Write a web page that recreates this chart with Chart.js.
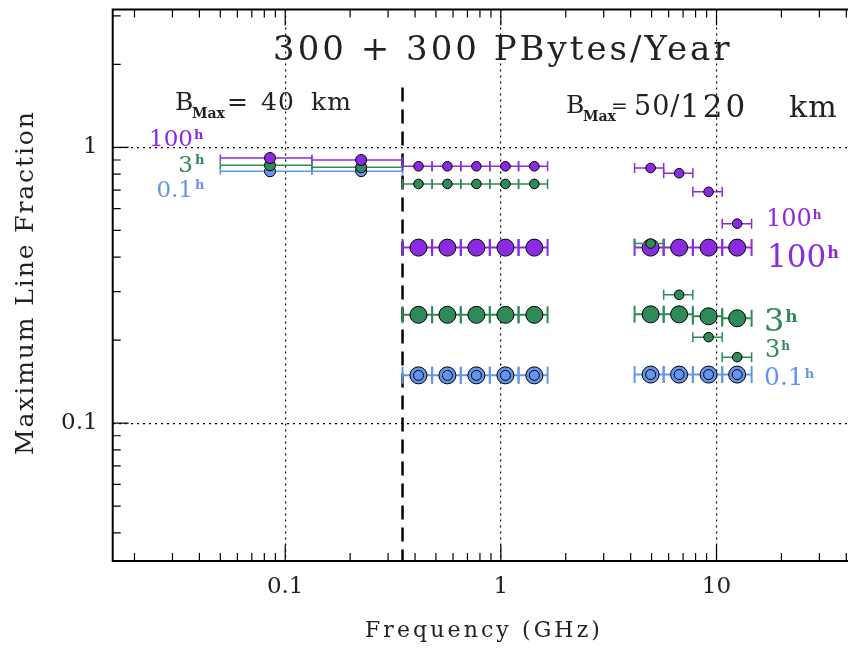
<!DOCTYPE html>
<html><head><meta charset="utf-8">
<script src="https://cdn.jsdelivr.net/npm/chart.js@4.4.0/dist/chart.umd.min.js"></script>
<style>
html,body{margin:0;padding:0;overflow:hidden;background:#fff;width:848px;height:650px}
#wrap{position:absolute;left:0;top:0;width:900px;height:650px}
</style>
</head><body><div id="wrap"><canvas id="c" width="900" height="650"></canvas></div>
<script>
// ---------------- data ----------------
const xMajorTicks = [0.1, 1, 10];
const xTickLabels = ['0.1', '1', '10'];
const yMajorTicks = [0.1, 1];
const yTickLabels = ['0.1', '1'];
const minorMultipliers = [2, 3, 4, 5, 6, 7, 8, 9];
const decades = [0.01, 0.1, 1, 10];

// B_Max = 40 km (below 350 MHz)
const lowFreq = [0.085, 0.225];
const lowLo   = [0.05, 0.133];
const lowHi   = [0.133, 0.35];
const low100h = [0.915, 0.90];
const low3h   = [0.861, 0.847];
const low01h  = [0.819, 0.82];

// B_Max = 50/120 km, 0.35 - 1.65 GHz
const midFreq = [0.415, 0.565, 0.77, 1.05, 1.43];
const midLo   = [0.35, 0.48, 0.652, 0.889, 1.208];
const midHi   = [0.48, 0.652, 0.889, 1.208, 1.647];
const mid100hSmall = [0.854, 0.854, 0.854, 0.854, 0.854];
const mid3hSmall   = [0.737, 0.737, 0.737, 0.737, 0.737];
const mid100hBig   = [0.433, 0.433, 0.433, 0.433, 0.433];
const mid3hBig     = [0.247, 0.247, 0.247, 0.247, 0.247];
const mid01hBig    = [0.149, 0.149, 0.149, 0.149, 0.149];

// B_Max = 50/120 km, 4 - 15 GHz
const highFreq = [4.95, 6.71, 9.19, 12.47];
const highLo   = [4.17, 5.69, 7.77, 10.63];
const highHi   = [5.69, 7.77, 10.63, 14.55];
const high100hSmall = [0.842, 0.806, 0.69, 0.529];
const high3hSmall   = [0.448, 0.292, 0.205, 0.1735];
const high100hBig   = [0.433, 0.433, 0.433, 0.433];
const high3hBig     = [0.248, 0.248, 0.244, 0.240];
const high01hBig    = [0.150, 0.150, 0.150, 0.150];

// 350 MHz split line
const splitFreq = [0.35, 0.35];
const splitFrac = [1.65, 0.0316];

// ---------------- styling ----------------
const PURPLE = '#8a2be2', GREEN = '#2e8b57', BLUE = '#6495ed';
const INK = '#222';
const FONT = '"DejaVu Serif", "Liberation Serif", serif';

function pts(xs, ys, lo, hi) {
  return xs.map((x, i) => ({ x: x, y: ys[i], xMin: lo ? lo[i] : null, xMax: hi ? hi[i] : null }));
}
function series(xs, ys, lo, hi, color, radius, cap, barWidth) {
  return {
    data: pts(xs, ys, lo, hi), showLine: false,
    pointRadius: radius, pointBackgroundColor: color, pointBorderColor: '#000', pointBorderWidth: 1,
    errorBars: true, barColor: color, barCap: cap, barWidth: barWidth
  };
}
function ring(xs, ys) {
  return { data: pts(xs, ys), showLine: false, pointRadius: 5,
    pointBackgroundColor: 'rgba(0,0,0,0)', pointBorderColor: '#000', pointBorderWidth: 1 };
}

const paintOrder = [
  { type: 'line', data: splitFreq.map((x, i) => ({ x: x, y: splitFrac[i] })), borderColor: '#000',
    borderWidth: 2.5, borderDash: [14, 8], pointRadius: 0, fill: false, showLine: true },
  series(lowFreq, low01h, lowLo, lowHi, BLUE, 5.5, 3.5, 1.5),
  series(lowFreq, low3h, lowLo, lowHi, GREEN, 5.5, 3.5, 1.5),
  series(lowFreq, low100h, lowLo, lowHi, PURPLE, 5.5, 3.5, 1.5),
  series(midFreq, mid01hBig, midLo, midHi, BLUE, 8.5, 8.5, 2),
  ring(midFreq, mid01hBig),
  series(midFreq, mid3hBig, midLo, midHi, GREEN, 8.5, 8.5, 2),
  series(midFreq, mid100hBig, midLo, midHi, PURPLE, 8.5, 8.5, 2),
  series(midFreq, mid3hSmall, midLo, midHi, GREEN, 4.8, 5, 1.5),
  series(midFreq, mid100hSmall, midLo, midHi, PURPLE, 4.8, 5, 1.5),
  series(highFreq, high01hBig, highLo, highHi, BLUE, 8.5, 8.5, 2),
  ring(highFreq, high01hBig),
  series(highFreq, high3hBig, highLo, highHi, GREEN, 8.5, 8.5, 2),
  series(highFreq, high100hBig, highLo, highHi, PURPLE, 8.5, 8.5, 2),
  series(highFreq, high3hSmall, highLo, highHi, GREEN, 4.8, 5, 1.5),
  series(highFreq, high100hSmall, highLo, highHi, PURPLE, 4.8, 5, 1.5)
];
paintOrder.forEach((d, i) => { d.order = paintOrder.length - i; });

// ---------------- plugins ----------------
const errorBarPlugin = {
  id: 'errorBars',
  beforeDatasetDraw(chart, args) {
    const ds = chart.data.datasets[args.index];
    if (!ds.errorBars) return;
    const ctx = chart.ctx, xs = chart.scales.x, ys = chart.scales.y;
    ctx.save();
    ctx.strokeStyle = ds.barColor; ctx.lineWidth = ds.barWidth;
    ds.data.forEach(p => {
      const py = ys.getPixelForValue(p.y);
      const x0 = xs.getPixelForValue(p.xMin), x1 = xs.getPixelForValue(p.xMax);
      ctx.beginPath();
      ctx.moveTo(x0, py); ctx.lineTo(x1, py);
      ctx.moveTo(x0, py - ds.barCap); ctx.lineTo(x0, py + ds.barCap);
      ctx.moveTo(x1, py - ds.barCap); ctx.lineTo(x1, py + ds.barCap);
      ctx.stroke();
    });
    ctx.restore();
  }
};

function txt(ctx, s, x, y, size, color, opts) {
  opts = opts || {};
  ctx.save();
  ctx.font = (opts.bold ? 'bold ' : '') + size + 'px ' + FONT;
  ctx.fillStyle = color;
  ctx.textBaseline = 'alphabetic';
  ctx.textAlign = opts.align || 'left';
  ctx.letterSpacing = (opts.ls || 0) + 'px';
  ctx.fillText(s, x, y);
  const w = ctx.measureText(s).width;
  ctx.restore();
  return w;
}
function hLabel(ctx, num, x, base, size, color) {
  const w = txt(ctx, num, x, base, size, color);
  txt(ctx, 'h', x + w + 1, base - 0.28 * size, Math.round(size * 0.52), color, { bold: true });
}

const framePlugin = {
  id: 'frame',
  afterDatasetsDraw(chart) {
    const ctx = chart.ctx, a = chart.chartArea, xs = chart.scales.x, ys = chart.scales.y;
    ctx.save();
    ctx.strokeStyle = '#000';
    ctx.lineWidth = 1.2;
    ctx.beginPath();
    decades.forEach(d => {
      minorMultipliers.forEach(m => {
        const v = d * m;
        if (v > xs.min && v < xs.max) {
          const px = xs.getPixelForValue(v);
          ctx.moveTo(px, a.bottom); ctx.lineTo(px, a.bottom - 8);
          ctx.moveTo(px, a.top); ctx.lineTo(px, a.top + 8);
        }
        if (v > ys.min && v < ys.max) {
          const py = ys.getPixelForValue(v);
          ctx.moveTo(a.left, py); ctx.lineTo(a.left + 8, py);
          ctx.moveTo(a.right, py); ctx.lineTo(a.right - 8, py);
        }
      });
    });
    xMajorTicks.forEach(v => {
      const px = xs.getPixelForValue(v);
      ctx.moveTo(px, a.bottom); ctx.lineTo(px, a.bottom - 16);
      ctx.moveTo(px, a.top); ctx.lineTo(px, a.top + 16);
    });
    yMajorTicks.forEach(v => {
      const py = ys.getPixelForValue(v);
      ctx.moveTo(a.left, py); ctx.lineTo(a.left + 16, py);
      ctx.moveTo(a.right, py); ctx.lineTo(a.right - 16, py);
    });
    ctx.stroke();
    ctx.lineWidth = 2;
    ctx.strokeRect(a.left, a.top, a.right - a.left, a.bottom - a.top);
    ctx.restore();

    // annotations
    txt(ctx, '300 + 300 PBytes/Year', 273, 60, 34, INK, { ls: 3 });
    // B_Max = 40 km
    txt(ctx, 'B', 175, 110, 25, INK);
    txt(ctx, 'Max', 192, 118, 14, INK, { bold: true });
    txt(ctx, '=', 227, 110, 25, INK);
    txt(ctx, '40', 261, 110, 25, INK, { ls: 1 });
    txt(ctx, 'km', 311, 110, 25, INK, { ls: 1 });
    // B_Max = 50/120 km
    txt(ctx, 'B', 566, 113, 25, INK);
    txt(ctx, 'Max', 583, 121, 14, INK, { bold: true });
    txt(ctx, '=', 611, 113, 20, INK);
    txt(ctx, '50/', 634, 115, 27, INK, { ls: 1 });
    txt(ctx, '120', 680, 117, 31, INK, { ls: 3 });
    txt(ctx, 'km', 789, 117, 30, INK, { ls: 1 });

    // series labels, left
    txt(ctx, '100', 193, 146, 23, PURPLE, { align: 'right' });
    txt(ctx, 'h', 194, 139, 13, PURPLE, { bold: true });
    txt(ctx, '3', 193, 172, 23, GREEN, { align: 'right' });
    txt(ctx, 'h', 195, 164, 13, GREEN, { bold: true });
    txt(ctx, '0.1', 193, 197, 23, BLUE, { align: 'right' });
    txt(ctx, 'h', 195, 189, 13, BLUE, { bold: true });
    // series labels, right
    hLabel(ctx, '100', 766, 226, 24, PURPLE);
    hLabel(ctx, '100', 767, 267, 31, PURPLE);
    hLabel(ctx, '3', 764, 331, 32, GREEN);
    hLabel(ctx, '3', 765, 357, 24, GREEN);
    hLabel(ctx, '0.1', 764, 385, 25, BLUE);

    // axis titles
    txt(ctx, 'Frequency (GHz)', 365, 637, 22, INK, { ls: 3.1 });
    ctx.save();
    ctx.translate(33, 455);
    ctx.rotate(-Math.PI / 2);
    txt(ctx, 'Maximum Line Fraction', 0, 0, 25, INK, { ls: 1.9 });
    ctx.restore();
  }
};

new Chart(document.getElementById('c'), {
  type: 'scatter',
  data: { datasets: paintOrder },
  options: {
    responsive: false, animation: false, events: [],
    layout: { padding: { left: 0, right: 11, top: 7.5, bottom: 0 } },
    plugins: { legend: { display: false }, tooltip: { enabled: false } },
    scales: {
      x: {
        type: 'logarithmic', position: 'bottom', min: Math.pow(10, -1.8), max: Math.pow(10, 1.8),
        afterBuildTicks: s => { s.ticks = xMajorTicks.map(v => ({ value: v })); },
        afterFit: s => { s.height = 89; s.paddingLeft = 0; s.paddingRight = 0; },
        ticks: { callback: (v, i) => xTickLabels[i], font: { family: FONT, size: 23 }, color: INK,
          padding: 12, maxRotation: 0, autoSkip: false },
        grid: { color: '#000', lineWidth: 1.2, drawTicks: false },
        border: { display: false, dash: [2, 4] }
      },
      y: {
        type: 'logarithmic', position: 'left', min: Math.pow(10, -1.5), max: Math.pow(10, 0.5),
        afterBuildTicks: s => { s.ticks = yMajorTicks.map(v => ({ value: v })); },
        afterFit: s => { s.width = 112.7; s.paddingTop = 0; s.paddingBottom = 0; },
        ticks: { callback: (v, i) => yTickLabels[i], font: { family: FONT, size: 23 }, color: INK,
          padding: 15, autoSkip: false },
        grid: { color: '#000', lineWidth: 1.2, drawTicks: false },
        border: { display: false, dash: [2, 4] }
      }
    }
  },
  plugins: [errorBarPlugin, framePlugin]
});
</script>
</body></html>
